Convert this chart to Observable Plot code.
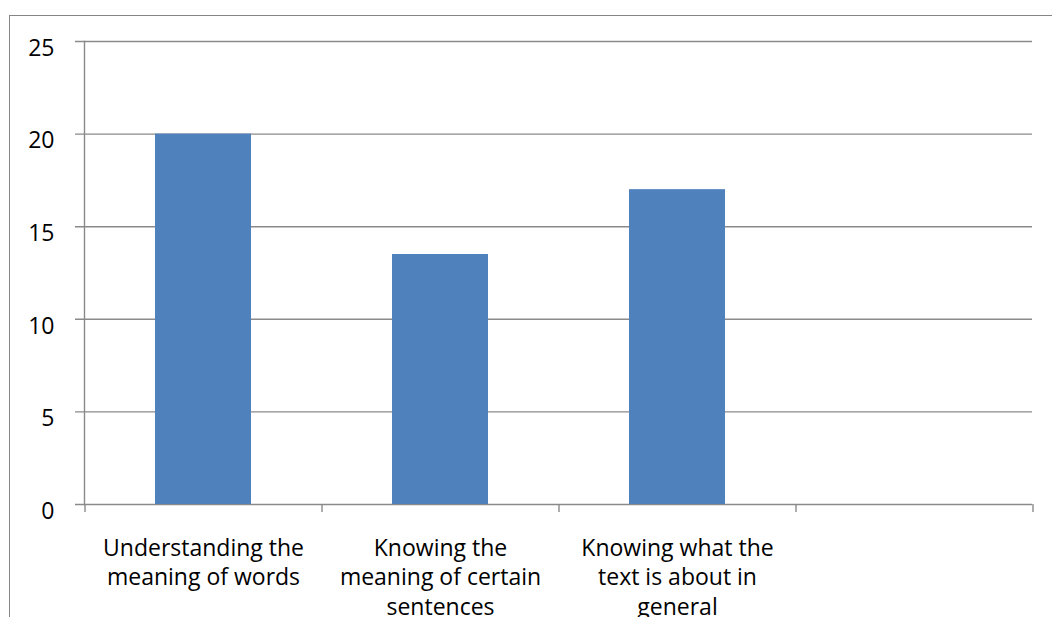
<!DOCTYPE html>
<html><head><meta charset="utf-8">
<script src="https://cdn.jsdelivr.net/npm/d3@7"></script>
<script src="https://cdn.jsdelivr.net/npm/@observablehq/plot@0.6"></script>
<style>
html,body{margin:0;padding:0;background:#fff;overflow:hidden}
#wrap{position:relative;width:1052px;height:617px}
#border{position:absolute;left:9px;top:15px;width:1100px;height:700px;border-left:1px solid #868686;border-top:1px solid #868686;pointer-events:none}
#chart{position:absolute;left:0;top:0}
</style></head><body><div id="wrap"><div id="chart"></div><div id="border"></div></div>
<script>
const categories = [
  "Understanding the\nmeaning of words",
  "Knowing the\nmeaning of certain\nsentences",
  "Knowing what the\ntext is about in\ngeneral",
  ""
];
const values = [20, 13.5, 17, null];
const yTicks = [0, 5, 10, 15, 20, 25];

const data = categories.map((c, i) => ({category: c, value: values[i]}));

const W = 1052, H = 617, ML = 84, MR = 20, MT = 41, MB = 113;
const step = (W - ML - MR) / categories.length;
const gray = "#8a8a8a";

const chart = Plot.plot({
  width: W, height: H,
  marginLeft: ML, marginRight: MR, marginTop: MT, marginBottom: MB,
  style: {fontFamily: "'Open Sans', sans-serif", fontSize: "23px", color: "#000", background: "transparent"},
  x: {domain: categories, paddingInner: 0.595, paddingOuter: 0.2975, axis: null, label: null},
  y: {domain: [0, 25], axis: null, label: null},
  marks: [
    Plot.ruleY(yTicks, {stroke: gray, strokeWidth: 1.4, insetLeft: -9}),
    Plot.frame({anchor: "left", stroke: gray, strokeWidth: 1.4}),
    Plot.barY(data.filter(d => d.value != null), {x: "category", y: "value", fill: "#4F81BD"}),
    Plot.axisY(yTicks, {tickSize: 0, tickPadding: 30, dy: 7, fontSize: 23, label: null}),
    Plot.axisX(categories, {tickSize: 0, tickPadding: 31, lineHeight: 1.27, fontSize: 23, tickFormat: d => d, label: null}),
    Plot.axisX(categories, {tickSize: 8, stroke: gray, strokeWidth: 1.4, strokeOpacity: 1, dx: -step / 2, tickFormat: () => "", label: null}),
    Plot.axisX([categories[categories.length - 1]], {tickSize: 8, stroke: gray, strokeWidth: 1.4, strokeOpacity: 1, dx: step / 2, tickFormat: () => "", label: null})
  ]
});
document.getElementById("chart").appendChild(chart);
</script>
</body></html>
